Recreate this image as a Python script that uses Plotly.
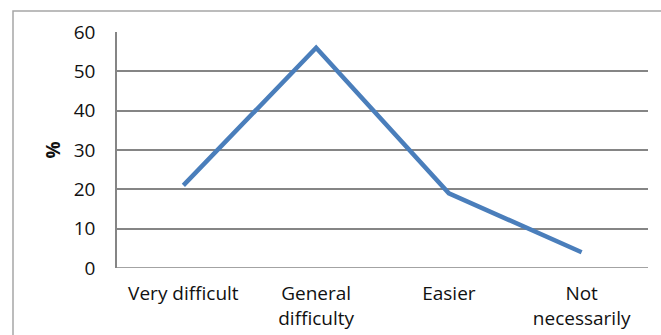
import plotly.graph_objects as go

# Survey responses (percent)
categories = ["Very difficult", "General<br>difficulty", "Easier", "Not<br>necessarily"]
percent = [21, 56, 19, 4]
y_ticks = [0, 10, 20, 30, 40, 50, 60]

W, H = 661, 335
L, R, T, B = 117, 13, 32, 67
plot_w = W - L - R
plot_h = H - T - B

fig = go.Figure()
fig.add_trace(go.Scatter(
    x=categories, y=percent, mode="lines",
    line=dict(color="#4A7EBB", width=4.5),
    showlegend=False,
))

font = dict(family="Open Sans, sans-serif", size=19, color="#111111")

fig.update_layout(
    width=W, height=H,
    margin=dict(l=L, r=R, t=T, b=B, autoexpand=False),
    paper_bgcolor="white", plot_bgcolor="white",
    font=font,
    xaxis=dict(
        range=[-0.5, 3.5], showgrid=False, zeroline=False,
        showline=False, ticks="", ticklabelstandoff=12,
        tickfont=font, automargin=False,
    ),
    yaxis=dict(
        range=[0, 60], tickvals=y_ticks, showgrid=True,
        gridcolor="#858585", gridwidth=1.5,
        zeroline=False, showline=True, linecolor="#858585", linewidth=1.5,
        ticks="", ticklabelstandoff=16, tickfont=font, automargin=False,
        title=dict(text="<b>%</b>", font=dict(family="Open Sans, sans-serif", size=19, color="#111111"), standoff=8),
    ),
    shapes=[
        # outer chart frame
        dict(type="rect", xref="paper", yref="paper",
             x0=(13 - L) / plot_w, x1=(W + 5 - L) / plot_w,
             y0=(H - B - (H + 5)) / plot_h, y1=(H - B - 11) / plot_h,
             line=dict(color="#a6a6a6", width=1.5), layer="below"),
        # baseline at zero
        dict(type="line", xref="paper", yref="y", x0=0, x1=1, y0=0, y1=0,
             line=dict(color="#858585", width=1.5)),
    ],
)

fig.write_html("out.html")
